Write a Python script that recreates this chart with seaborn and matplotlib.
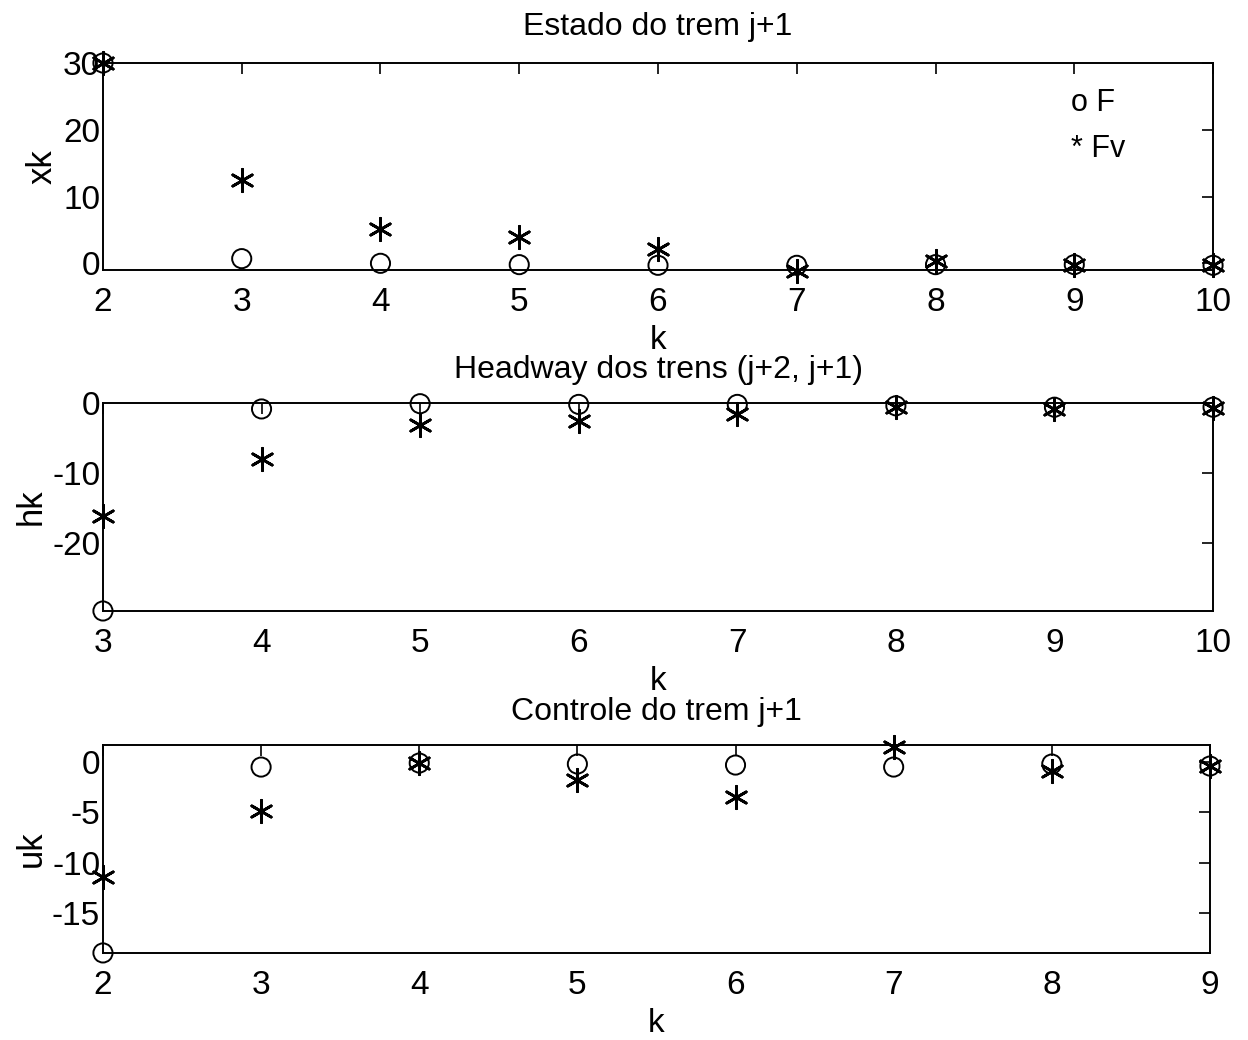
import matplotlib
matplotlib.use("Agg")
import matplotlib.pyplot as plt
import seaborn as sns
import numpy as np

# ---- data ----
k_top = [2, 3, 4, 5, 6, 7, 8, 9, 10]
x_F = [30.0, 0.7, 0.0, -0.2, -0.3, -0.3, -0.2, -0.2, -0.3]
x_Fv = [30.0, 12.5, 5.1, 4.0, 2.2, -1.2, 0.3, -0.3, -0.3]

k_mid = [3, 4, 5, 6, 7, 8, 9, 10]
h_F = [-29.7, -0.85, -0.1, -0.2, -0.2, -0.4, -0.6, -0.6]
h_Fv = [-16.1, -8.0, -3.1, -2.6, -1.6, -0.5, -0.8, -0.7]

k_bot = [2, 3, 4, 5, 6, 7, 8, 9]
u_F = [-19.0, -0.5, -0.1, -0.2, -0.3, -0.5, -0.2, -0.4]
u_Fv = [-11.4, -4.9, -0.1, -1.8, -3.5, 1.5, -0.9, -0.4]

titles = ["Estado do trem j+1", "Headway dos trens (j+2, j+1)", "Controle do trem j+1"]
ylabels = ["xk", "hk", "uk"]
yticks = [[0, 10, 20, 30], [-20, -10, 0], [-15, -10, -5, 0]]
ylims = [(-1.0, 30.0), (-29.7, 0.0), (-19.0, 1.7)]
legend_labels = ["o F", "* Fv"]

sns.set_style("white")
plt.rcParams['font.family'] = ['Liberation Sans', 'DejaVu Sans']
plt.rcParams['axes.unicode_minus'] = False
for key in ['text.color', 'axes.labelcolor', 'xtick.color', 'ytick.color']:
    plt.rcParams[key] = 'black'

fig = plt.figure(figsize=(12.48, 10.4), dpi=100)
positions = [
    [0.0825, 0.7404, 0.8895, 0.1990],
    [0.0825, 0.4125, 0.8895, 0.2000],
    [0.0825, 0.0837, 0.8870, 0.2000],
]
title_pads = [20, 18, 18]
datasets = [(k_top, x_F, x_Fv), (k_mid, h_F, h_Fv), (k_bot, u_F, u_Fv)]

for i, (pos, (kk, f, fv)) in enumerate(zip(positions, datasets)):
    ax = fig.add_axes(pos)
    sns.scatterplot(x=kk, y=f, ax=ax, marker='o', s=190,
                    facecolors='none', edgecolor='black', linewidth=1.4,
                    clip_on=False, zorder=3)
    sns.scatterplot(x=kk, y=fv, ax=ax, marker=(6, 2, 0), s=260,
                    color='black', linewidth=2.0, clip_on=False, zorder=4)
    ax.set_xlim(kk[0], kk[-1])
    ax.set_ylim(*ylims[i])
    ax.set_xticks(kk)
    ax.set_yticks(yticks[i])
    for sp in ax.spines.values():
        sp.set_visible(True)
        sp.set_color('black')
        sp.set_linewidth(1.4)
    ax.tick_params(direction='in', length=8, width=1.2, top=True, right=True,
                   labelsize=24)
    ax.tick_params(axis='x', pad=12)
    ax.tick_params(axis='y', pad=2)
    ax.set_title(titles[i], fontsize=23, pad=title_pads[i])
    ax.set_xlabel("k", fontsize=24, labelpad=5)
    ax.set_ylabel(ylabels[i], fontsize=25, labelpad=3)
    if i == 0:
        ax.text(0.872, 0.805, legend_labels[0], transform=ax.transAxes,
                fontsize=22, va='center', ha='left')
        ax.text(0.872, 0.585, legend_labels[1], transform=ax.transAxes,
                fontsize=22, va='center', ha='left')

fig.savefig("out.png", dpi=100, facecolor='white')
